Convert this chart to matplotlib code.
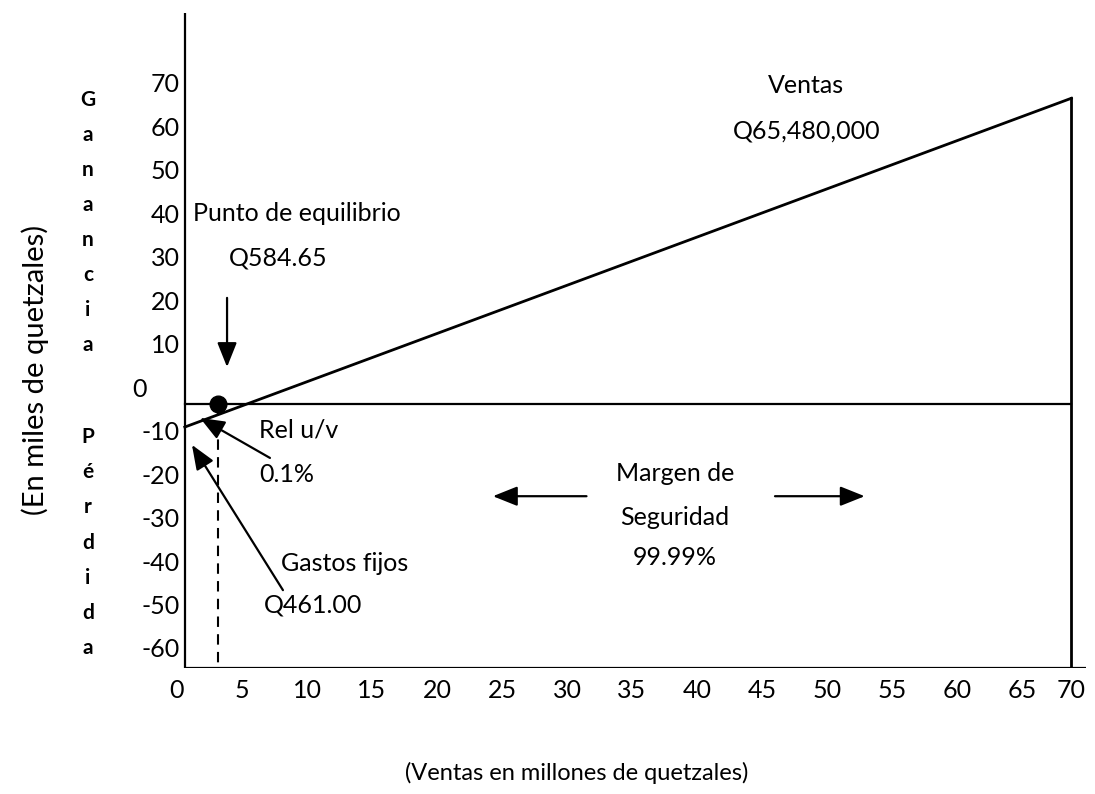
import numpy as np
import matplotlib
matplotlib.use('Agg')
import matplotlib.pyplot as plt
from matplotlib.transforms import ScaledTranslation

plt.rcParams['font.family'] = ['Lato', 'DejaVu Sans']

# data (x in millions, y in thousands)
x_ticks = [0, 5, 10, 15, 20, 25, 30, 35, 40, 45, 50, 55, 60, 65, 68.8]
x_labels = ['0', '5', '10', '15', '20', '25', '30', '35', '40', '45', '50', '55', '60', '65', '70']
y_ticks = [70, 60, 50, 40, 30, 20, 10, 0, -10, -20, -30, -40, -50, -60]

sales_x = [0.6, 68.8]
sales_y = [-9.2, 66.4]
zero_x = [0.6, 68.8]
zero_y = [-3.9, -3.9]
be_x, be_y = 3.15, -3.9
y_bottom, y_top = -64.6, 86.0
x_axis_end = 69.9

gain_word = 'Ganancia'
loss_word = 'Pérdida'

W, H = 1095, 794
fig = plt.figure(figsize=(W / 100, H / 100), dpi=100)
ax = fig.add_axes([177 / W, 126 / H, 910 / W, 655 / H])
ax.set_xlim(0, 70)
ax.set_ylim(y_bottom, y_top)
for s in ax.spines.values():
    s.set_visible(False)

lw = 1.6
# axes drawn by hand
ax.plot([0.6, 0.6], [y_bottom, y_top], color='black', lw=lw, solid_capstyle='butt')
ax.plot([0.6, x_axis_end], [y_bottom, y_bottom], color='black', lw=lw, solid_capstyle='butt')
ax.plot(zero_x, zero_y, color='black', lw=lw)
ax.plot(sales_x, sales_y, color='black', lw=2.0)
ax.plot([sales_x[1], sales_x[1]], [sales_y[1], y_bottom], color='black', lw=2.0)
ax.plot([be_x, be_x], [be_y, y_bottom], color='black', lw=1.5, ls=(0, (5, 3.5)))
ax.plot(be_x, be_y, 'o', color='black', markersize=12)

fs = 18
ax.set_xticks(x_ticks)
ax.set_xticklabels(x_labels, fontsize=fs)
ax.set_yticks(y_ticks)
ax.set_yticklabels([str(v) for v in y_ticks], fontsize=fs)
ax.tick_params(axis='both', length=0)
ax.tick_params(axis='x', pad=8)
ax.tick_params(axis='y', pad=-2)
for lbl in ax.get_yticklabels():
    if lbl.get_text() == '0':
        lbl.set_transform(lbl.get_transform() + ScaledTranslation(-0.33, 0, fig.dpi_scale_trans))

# arrows
def arrow(x0, y0, x1, y1):
    ax.annotate('', xy=(x1, y1), xytext=(x0, y0),
                arrowprops=dict(arrowstyle='-|>,head_length=1.0,head_width=0.4',
                                mutation_scale=15, color='black', lw=1.6,
                                shrinkA=0, shrinkB=0))

arrow(3.85, 20.5, 3.85, 4.6)
arrow(7.15, -16.3, 1.77, -7.1)
arrow(8.15, -46.7, 1.15, -13.3)
arrow(31.5, -25.1, 24.3, -25.1)
arrow(46.0, -25.1, 52.9, -25.1)

# annotations
ax.text(48.4, 69.4, 'Ventas', fontsize=fs, ha='center', va='center')
ax.text(48.4, 58.9, 'Q65,480,000', fontsize=fs, ha='center', va='center')
ax.text(1.2, 40.0, 'Punto de equilibrio', fontsize=fs, ha='left', va='center')
ax.text(7.8, 29.7, 'Q584.65', fontsize=fs, ha='center', va='center')
ax.text(6.3, -9.9, 'Rel u/v', fontsize=fs, ha='left', va='center')
ax.text(6.3, -20.2, '0.1%', fontsize=fs, ha='left', va='center')
ax.text(38.3, -19.8, 'Margen de', fontsize=fs, ha='center', va='center')
ax.text(38.3, -29.9, 'Seguridad', fontsize=fs, ha='center', va='center')
ax.text(38.3, -39.1, '99.99%', fontsize=fs, ha='center', va='center')
ax.text(8.0, -40.5, 'Gastos fijos', fontsize=fs, ha='left', va='center')
ax.text(6.7, -50.1, 'Q461.00', fontsize=fs, ha='left', va='center')

# vertical bold words on the left
for i, ch in enumerate(gain_word):
    fig.text(88 / W, 1 - (100 + 35 * i) / H, ch, fontsize=15, fontweight='bold',
             ha='center', va='center')
for i, ch in enumerate(loss_word):
    fig.text(88 / W, 1 - (437 + 35.2 * i) / H, ch, fontsize=15, fontweight='bold',
             ha='center', va='center')

fig.text(35 / W, 1 - 370 / H, '(En miles de quetzales)', fontsize=21, rotation=90,
         ha='center', va='center')
fig.text(577 / W, 1 - 773 / H, '(Ventas en millones de quetzales)', fontsize=17,
         ha='center', va='center')

fig.savefig('out.png', dpi=100)
